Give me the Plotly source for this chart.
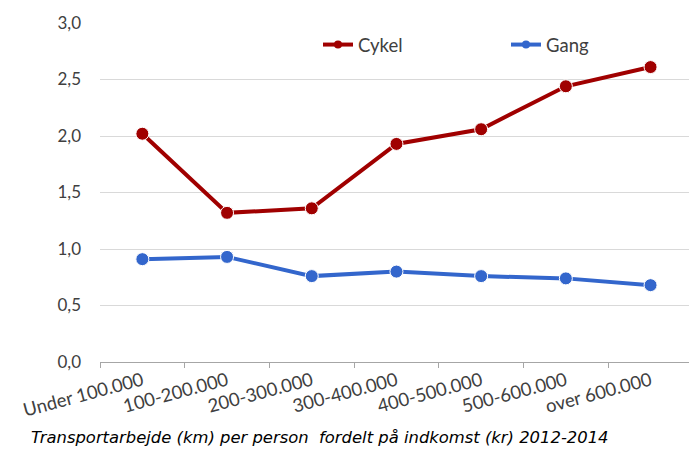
import plotly.graph_objects as go

categories = ["Under 100.000", "100-200.000", "200-300.000", "300-400.000",
              "400-500.000", "500-600.000", "over 600.000"]
cykel = [2.02, 1.32, 1.36, 1.93, 2.06, 2.44, 2.61]
gang = [0.91, 0.93, 0.76, 0.80, 0.76, 0.74, 0.68]
y_ticks = [0.0, 0.5, 1.0, 1.5, 2.0, 2.5, 3.0]
caption = "Transportarbejde (km) per person  fordelt på indkomst (kr) 2012-2014"

RED = "#A00000"
BLUE = "#3366CC"

fig = go.Figure()
for name, vals, col, lg in [("Cykel", cykel, RED, "legend"), ("Gang", gang, BLUE, "legend2")]:
    fig.add_trace(go.Scatter(
        x=categories, y=vals, mode="lines+markers", name=name,
        line=dict(color=col, width=4),
        marker=dict(size=13, color=col, line=dict(color="white", width=1)),
        showlegend=False, cliponaxis=False,
    ))
    # legend-only entry with smaller marker
    fig.add_trace(go.Scatter(
        x=[None], y=[None], mode="lines+markers", name=name,
        line=dict(color=col, width=4),
        marker=dict(size=8, color=col),
        showlegend=True, legend=lg,
    ))

legend_style = dict(orientation="h", y=0.935, xanchor="left", yanchor="middle",
                    font=dict(family="Lato", size=18.5, color="#404040"),
                    bgcolor="rgba(0,0,0,0)")

fig.update_layout(
    width=689, height=449,
    margin=dict(l=100, r=0, t=23, b=87),
    paper_bgcolor="white", plot_bgcolor="white",
    separators=",.",
    font=dict(family="Lato", size=17, color="#404040"),
    showlegend=True,
    legend=dict(x=(318 - 100) / 589, **legend_style),
    legend2=dict(x=(506 - 100) / 589, **legend_style),
    xaxis=dict(
        type="category", range=[-0.5, 6.454],
        tickangle=-15, tickson="boundaries", ticks="outside", ticklen=5,
        tickcolor="#A6A6A6", showline=True, linecolor="#A6A6A6", linewidth=1,
        showgrid=False, tickfont=dict(family="Lato", size=18.5, color="#404040"),
    ),
    yaxis=dict(
        range=[0, 3], tickvals=y_ticks, tickformat=".1f",
        showgrid=True, gridcolor="#D9D9D9", gridwidth=1,
        zeroline=False, showline=False, ticks="",
        ticklabelstandoff=18,
        tickfont=dict(family="Lato", size=17, color="#404040"),
    ),
    annotations=[dict(
        text=caption, xref="paper", yref="paper", x=(29 - 100) / 589, y=(362 - 437) / 339,
        xanchor="left", yanchor="middle", showarrow=False,
        font=dict(family="DejaVu Sans", size=16.4, color="#000000", style="italic"),
    )],
)

fig.write_html("out.html", config={"displayModeBar": False},
               post_script="document.body.style.margin='0';document.body.style.overflow='hidden';")
